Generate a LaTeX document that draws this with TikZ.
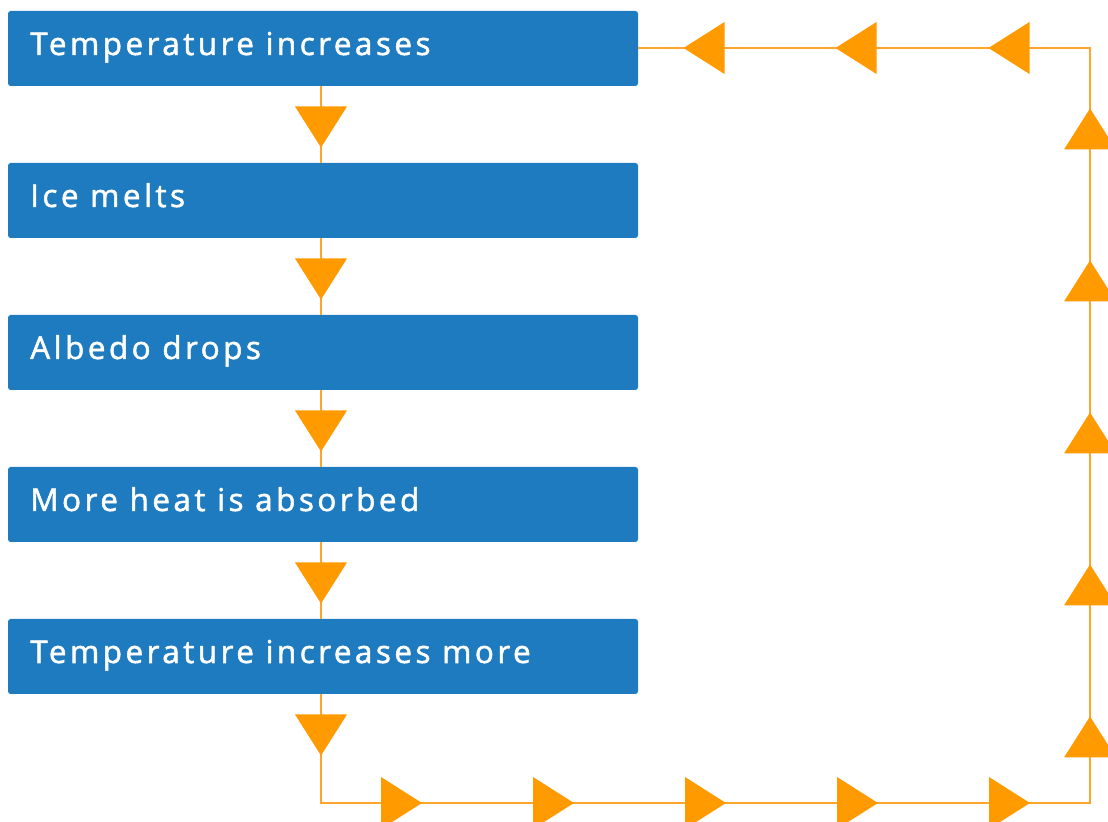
\documentclass[tikz,border=0pt]{standalone}
\usepackage{fontspec}
\newfontfamily\boxfont{Open Sans}[LetterSpace=11,FakeBold=1.6]
\begin{document}
\begin{tikzpicture}[x=0.75pt,y=0.75pt,
  box/.style={fill=boxblue, draw=none, rounded corners=2pt, minimum width=630*0.75pt, minimum height=75*0.75pt, inner sep=0pt},
  lab/.style={anchor=base west, text=white, font=\boxfont\fontsize{23.6}{28}\selectfont, inner sep=0pt},
  conn/.style={draw=lineorange, line width=1.5pt},
  tri/.pic={\fill[triorange] (-20.5,26) -- (20.5,0) -- (-20.5,-26) -- cycle;}
]
\definecolor{boxblue}{HTML}{1E7BC0}
\definecolor{lineorange}{HTML}{FFA52E}
\definecolor{triorange}{HTML}{FF9A00}
\useasboundingbox (0,0) rectangle (1108,822);
\clip (0,0) rectangle (1108,822);
% boxes
\node[box] (b1) at (323,773.5) {};
\node[box] (b2) at (323,621.5) {};
\node[box] (b3) at (323,469.5) {};
\node[box] (b4) at (323,317.5) {};
\node[box] (b5) at (323,165.5) {};
\node[lab] (t1) at (30,767) {Temperature increases};
\node[lab] (t2) at (30,615) {Ice melts};
\node[lab] (t3) at (30,463) {Albedo drops};
\node[lab] (t4) at (30,311) {More heat is absorbed};
\node[lab] (t5) at (30,159) {Temperature increases more};
% corners of the loop
\coordinate (c1) at (321,19);
\coordinate (c2) at (1090,19);
\coordinate (c3) at (1090,774);
% connectors
\draw[conn] (b1.south -| c1) -- (b2.north -| c1);
\draw[conn] (b2.south -| c1) -- (b3.north -| c1);
\draw[conn] (b3.south -| c1) -- (b4.north -| c1);
\draw[conn] (b4.south -| c1) -- (b5.north -| c1);
\draw[conn] (b5.south -| c1) -- (c1) -- (c2) -- (c3) -- (b1.east |- c3);
% triangles
\foreach \y in {695,543,391,239,87} \pic[rotate=-90] at (321,\y) {tri};
\foreach \x in {401.5,553.5,705.5,857.5,1009.5} \pic at (\x,19) {tri};
\foreach \y in {85,237,389,541,693} \pic[rotate=90] at (1090,\y) {tri};
\foreach \x in {704,856,1009} \pic[rotate=180] at (\x,774) {tri};
\end{tikzpicture}
\end{document}
